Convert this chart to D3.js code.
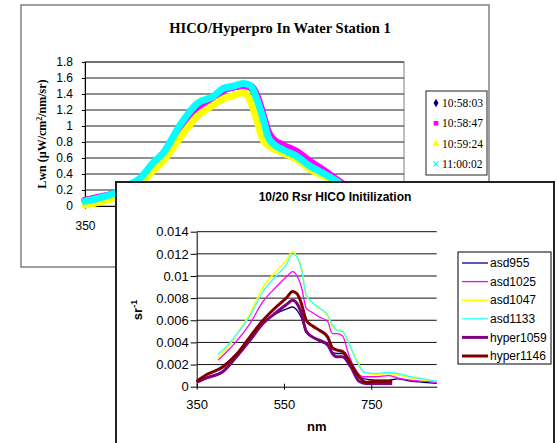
<!DOCTYPE html>
<html>
<head>
<meta charset="utf-8">
<script src="https://cdn.jsdelivr.net/npm/d3@7"></script>
<style>
  body { margin: 0; background: #fff; overflow: hidden; }
  svg { display: block; }
  .serif { font-family: "Liberation Serif", "Times New Roman", serif; }
  .sans { font-family: "Liberation Sans", Arial, sans-serif; }
</style>
</head>
<body>
<div id="chart"></div>
<script>
// ---------- back chart : HICO/Hyperpro In Water Station 1 ----------
var lwnNames = ["10:58:03", "10:58:47", "10:59:24", "11:00:02"];
var lwnColors = ["#000080", "#FF00FF", "#FFFF00", "#00FFFF"];
var lwnNm = [350, 370, 392, 409, 428, 446, 460, 484, 508, 531, 545, 560, 573, 583, 593, 601, 608, 615, 630, 649, 667, 686, 705, 720, 740, 760, 780, 800];
var lwn1058a = [0.07, 0.10, 0.16, 0.24, 0.33, 0.51, 0.63, 0.98, 1.24, 1.35, 1.45, 1.49, 1.51, 1.49, 1.34, 1.12, 0.90, 0.81, 0.73, 0.65, 0.53, 0.43, 0.32, 0.23, 0.12, 0.08, 0.06, 0.05];
var lwn1058b = [0.07, 0.11, 0.16, 0.24, 0.33, 0.50, 0.62, 0.97, 1.23, 1.34, 1.45, 1.49, 1.50, 1.50, 1.37, 1.15, 0.94, 0.84, 0.76, 0.68, 0.56, 0.45, 0.33, 0.24, 0.13, 0.09, 0.07, 0.06];
var lwn1059 = [0.01, 0.05, 0.10, 0.18, 0.28, 0.44, 0.56, 0.85, 1.12, 1.26, 1.34, 1.38, 1.42, 1.32, 1.05, 0.83, 0.76, 0.72, 0.66, 0.58, 0.46, 0.38, 0.28, 0.20, 0.10, 0.06, 0.04, 0.03];
var lwn1100 = [0.06, 0.10, 0.16, 0.25, 0.35, 0.54, 0.66, 1.01, 1.28, 1.37, 1.47, 1.50, 1.53, 1.51, 1.32, 1.10, 0.87, 0.78, 0.70, 0.62, 0.50, 0.41, 0.31, 0.22, 0.12, 0.08, 0.06, 0.05];
var lwnTicks = [0, 0.2, 0.4, 0.6, 0.8, 1, 1.2, 1.4, 1.6, 1.8];
var lwnNmTicks = [350, 550, 750];

// ---------- front chart : 10/20 Rsr HICO Initilization ----------
var rsrNames = ["asd955", "asd1025", "asd1047", "asd1133", "hyper1059", "hyper1146"];
var rsrColors = ["#000080", "#FF00FF", "#FFFF00", "#33FFFF", "#800080", "#800000"];
var asdNm = [399, 420, 441, 472, 502, 532, 555, 570, 580, 590, 601, 615, 631, 650, 661, 672, 684, 700, 718, 734, 760, 790, 810, 840, 870, 900];
var hyperNm = [350, 373, 411, 441, 472, 502, 532, 555, 570, 580, 590, 601, 615, 631, 650, 661, 672, 684, 703, 722, 737, 760, 780, 798];
var asd955 = [0.0016, 0.0022, 0.0030, 0.0045, 0.0058, 0.0066, 0.0070, 0.0072, 0.0069, 0.0062, 0.0049, 0.0045, 0.0041, 0.0037, 0.0031, 0.0030, 0.0030, 0.0021, 0.0011, 0.0007, 0.0006, 0.0006, 0.0007, 0.0005, 0.0004, 0.0003];
var asd1025 = [0.0024, 0.0032, 0.0041, 0.0057, 0.0077, 0.0090, 0.0099, 0.0104, 0.0100, 0.0090, 0.0071, 0.0067, 0.0063, 0.0059, 0.0048, 0.0048, 0.0046, 0.0027, 0.0013, 0.0009, 0.0009, 0.0010, 0.0008, 0.0006, 0.0005, 0.0004];
var asd1047 = [0.0026, 0.0035, 0.0047, 0.0066, 0.0090, 0.0104, 0.0114, 0.0122, 0.0117, 0.0108, 0.0082, 0.0076, 0.0071, 0.0064, 0.0054, 0.0051, 0.0050, 0.0038, 0.0023, 0.0013, 0.0011, 0.0012, 0.0011, 0.0008, 0.0006, 0.0005];
var asd1133 = [0.0029, 0.0037, 0.0047, 0.0064, 0.0086, 0.0100, 0.0110, 0.0120, 0.0117, 0.0106, 0.0083, 0.0076, 0.0071, 0.0065, 0.0056, 0.0051, 0.0050, 0.0038, 0.0022, 0.0013, 0.0012, 0.0013, 0.0012, 0.0009, 0.0007, 0.0005];
var hyper1059 = [0.0004, 0.0008, 0.0014, 0.0027, 0.0042, 0.0057, 0.0067, 0.0074, 0.0078, 0.0075, 0.0066, 0.0050, 0.0045, 0.0042, 0.0038, 0.0030, 0.0027, 0.0027, 0.0018, 0.0005, 0.0003, 0.0003, 0.0003, 0.0003];
var hyper1146 = [0.0005, 0.0011, 0.0018, 0.0029, 0.0045, 0.0060, 0.0072, 0.0080, 0.0086, 0.0084, 0.0075, 0.0060, 0.0055, 0.0051, 0.0045, 0.0035, 0.0033, 0.0032, 0.0021, 0.0009, 0.0004, 0.0005, 0.0005, 0.0005];
var rsrTicks = [0, 0.002, 0.004, 0.006, 0.008, 0.01, 0.012, 0.014];
var rsrNmTicks = [350, 550, 750];

var svg = d3.select("#chart").append("svg")
    .attr("width", 557)
    .attr("height", 443);

function toPoints(xs, ys) {
    return xs.map(function (x, i) { return [x, ys[i]]; });
}

/**
 * Draws the background (Lwn) chart
 */
function drawBack() {
    var g = svg.append("g").attr("class", "serif");
    var plot = {left: 85, right: 404, top: 62, bottom: 206};

    g.append("rect")
        .attr("x", 21).attr("y", 5)
        .attr("width", 468).attr("height", 262)
        .attr("fill", "#fff")
        .attr("stroke", "#808080")
        .attr("stroke-width", 1.5);

    g.append("text")
        .attr("x", 280).attr("y", 33)
        .attr("text-anchor", "middle")
        .attr("font-size", "14.5px")
        .attr("font-weight", "bold")
        .text("HICO/Hyperpro In Water Station 1");

    var x = d3.scaleLinear().domain([350, 800]).range([plot.left, plot.right]);
    var y = d3.scaleLinear().domain([0, 1.8]).range([plot.bottom, plot.top]);

    // plot area border
    g.append("rect")
        .attr("x", plot.left).attr("y", plot.top)
        .attr("width", plot.right - plot.left).attr("height", plot.bottom - plot.top)
        .attr("fill", "none")
        .attr("stroke", "#808080");

    g.selectAll("line.grid").data(lwnTicks.slice(1))
        .enter().append("line")
        .attr("class", "grid")
        .attr("x1", plot.left).attr("x2", plot.right)
        .attr("y1", function (d) { return y(d); })
        .attr("y2", function (d) { return y(d); })
        .attr("stroke", "#222");

    var yAxis = g.append("g")
        .attr("transform", "translate(" + plot.left + ",0)")
        .call(d3.axisLeft(y).tickValues(lwnTicks).tickSize(3).tickPadding(9)
            .tickFormat(function (d) { return String(d); }));
    yAxis.selectAll("text").attr("font-size", "12px").attr("font-family", null).attr("fill", "#000");
    yAxis.selectAll("line, path").attr("stroke", "#000");

    var xAxis = g.append("g")
        .attr("transform", "translate(0," + plot.bottom + ")")
        .call(d3.axisBottom(x).tickValues(lwnNmTicks).tickSize(3).tickPadding(12).tickSizeOuter(0));
    xAxis.selectAll("text").attr("font-size", "12px").attr("font-family", null).attr("fill", "#000");
    xAxis.selectAll("line, path").attr("stroke", "#000");

    g.append("text")
        .attr("transform", "translate(46,134) rotate(-90)")
        .attr("text-anchor", "middle")
        .attr("font-size", "12px")
        .attr("font-weight", "bold")
        .text("Lwn (\u00b5W/cm")
        .append("tspan").attr("baseline-shift", "super").attr("font-size", "8px").text("2")
        .select(function () { return this.parentNode; })
        .append("tspan").text("/nm/sr)");

    // thick bands (dense markers in the original)
    var line = d3.line()
        .x(function (d) { return x(d[0]); })
        .y(function (d) { return y(d[1]); })
        .curve(d3.curveMonotoneX);
    var series = [lwn1058a, lwn1058b, lwn1059, lwn1100];
    series.forEach(function (s, i) {
        g.append("path")
            .attr("d", line(toPoints(lwnNm, s)))
            .attr("fill", "none")
            .attr("stroke", lwnColors[i])
            .attr("stroke-width", 7)
            .attr("stroke-linecap", "round")
            .attr("stroke-linejoin", "round");
    });

    // legend
    var lg = g.append("g");
    lg.append("rect")
        .attr("x", 426).attr("y", 91)
        .attr("width", 61).attr("height", 84)
        .attr("fill", "#fff")
        .attr("stroke", "#222");
    var symbols = [d3.symbolDiamond, d3.symbolSquare, d3.symbolTriangle, d3.symbolX];
    lwnNames.forEach(function (name, i) {
        var yy = 103 + i * 20.3;
        var sym = lg.append("path")
            .attr("transform", "translate(436," + yy + ")")
            .attr("d", d3.symbol(symbols[i], i == 3 ? 18 : 22)());
        if (i == 3) {
            sym.attr("fill", "none").attr("stroke", lwnColors[i]).attr("stroke-width", 1.2);
        } else {
            sym.attr("fill", lwnColors[i]);
        }
        lg.append("text")
            .attr("x", 442).attr("y", yy)
            .attr("dy", "0.35em")
            .attr("font-size", "11.5px")
            .text(name);
    });
}

/**
 * Draws the foreground (Rsr) chart on top
 */
function drawFront() {
    var g = svg.append("g").attr("class", "sans");
    var plot = {left: 196.7, right: 436.7, top: 231.7, bottom: 386.7};

    g.append("rect")
        .attr("x", 116).attr("y", 182)
        .attr("width", 438).attr("height", 280)
        .attr("fill", "#fff")
        .attr("stroke", "#222")
        .attr("stroke-width", 2);

    g.append("text")
        .attr("x", 335).attr("y", 201)
        .attr("text-anchor", "middle")
        .attr("font-size", "12px")
        .attr("font-weight", "bold")
        .text("10/20 Rsr HICO Initilization");

    var x = d3.scaleLinear().domain([350, 900]).range([plot.left, plot.right]);
    var y = d3.scaleLinear().domain([0, 0.014]).range([plot.bottom, plot.top]);

    g.selectAll("line.grid").data(rsrTicks.slice(1))
        .enter().append("line")
        .attr("class", "grid")
        .attr("x1", plot.left).attr("x2", plot.right)
        .attr("y1", function (d) { return y(d); })
        .attr("y2", function (d) { return y(d); })
        .attr("stroke", "#111");

    var yAxis = g.append("g")
        .attr("transform", "translate(" + plot.left + ",0)")
        .call(d3.axisLeft(y).tickValues(rsrTicks).tickSize(6).tickPadding(2).tickSizeOuter(0)
            .tickFormat(function (d) { return String(d); }));
    yAxis.selectAll("text").attr("font-size", "13px").attr("font-family", null).attr("fill", "#000");
    yAxis.selectAll("line, path").attr("stroke", "#000");

    var xAxis = g.append("g")
        .attr("transform", "translate(0," + plot.bottom + ")")
        .call(d3.axisBottom(x).tickValues(rsrNmTicks).tickSize(3).tickPadding(10).tickSizeOuter(0));
    xAxis.selectAll("line").attr("y1", -3);
    xAxis.selectAll("text").attr("font-size", "13px").attr("font-family", null).attr("fill", "#000");
    xAxis.selectAll("line, path").attr("stroke", "#000");

    g.append("text")
        .attr("x", (plot.left + plot.right) / 2).attr("y", 431)
        .attr("text-anchor", "middle")
        .attr("font-size", "13px")
        .attr("font-weight", "bold")
        .text("nm");

    g.append("text")
        .attr("transform", "translate(142,310) rotate(-90)")
        .attr("text-anchor", "middle")
        .attr("font-size", "13px")
        .attr("font-weight", "bold")
        .text("sr")
        .append("tspan").attr("baseline-shift", "super").attr("font-size", "9px").text("-1");

    var line = d3.line()
        .x(function (d) { return x(d[0]); })
        .y(function (d) { return y(d[1]); })
        .curve(d3.curveMonotoneX);
    var series = [
        toPoints(asdNm, asd955), toPoints(asdNm, asd1025), toPoints(asdNm, asd1047),
        toPoints(asdNm, asd1133), toPoints(hyperNm, hyper1059), toPoints(hyperNm, hyper1146)
    ];
    var widths = [1.3, 1.3, 1.6, 1.3, 3, 3];
    series.forEach(function (s, i) {
        g.append("path")
            .attr("d", line(s))
            .attr("fill", "none")
            .attr("stroke", rsrColors[i])
            .attr("stroke-width", widths[i])
            .attr("stroke-linejoin", "round");
    });

    // legend
    var lg = g.append("g");
    lg.append("rect")
        .attr("x", 458).attr("y", 252)
        .attr("width", 93).attr("height", 112)
        .attr("fill", "#fff")
        .attr("stroke", "#000");
    rsrNames.forEach(function (name, i) {
        var yy = 263 + i * 18.6;
        lg.append("line")
            .attr("x1", 462).attr("x2", 488)
            .attr("y1", yy).attr("y2", yy)
            .attr("stroke", rsrColors[i])
            .attr("stroke-width", widths[i]);
        lg.append("text")
            .attr("x", 490).attr("y", yy)
            .attr("dy", "0.35em")
            .attr("font-size", "12px")
            .text(name);
    });
}

drawBack();
drawFront();
</script>
</body>
</html>
